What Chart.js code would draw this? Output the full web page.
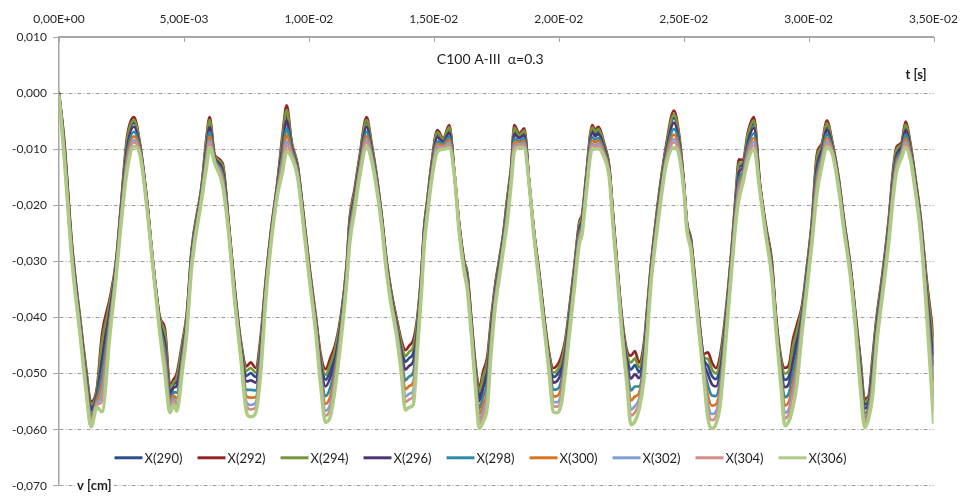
<!DOCTYPE html>
<html>
<head>
<meta charset="utf-8">
<script src="https://cdn.jsdelivr.net/npm/chart.js@4.4.1/dist/chart.umd.min.js"></script>
<style>
  html, body { margin: 0; padding: 0; background: #fff; }
</style>
</head>
<body>
<canvas id="myChart" width="961" height="499"></canvas>
<script>
// time axis [s]
var timeS = [
  0, 0.00020, 0.00052, 0.00084, 0.00108, 0.00128, 0.00152, 0.00172, 0.00204, 0.00228,
  0.00248, 0.00272, 0.00300, 0.00324, 0.00352, 0.00376, 0.00404, 0.00424, 0.00444, 0.00459,
  0.00471, 0.00495, 0.00511, 0.00531, 0.00571, 0.00591, 0.00603, 0.00623, 0.00655, 0.00679,
  0.00703, 0.00727, 0.00751, 0.00767, 0.00787, 0.00807, 0.00827, 0.00847, 0.00875, 0.00895,
  0.00911, 0.00931, 0.00955, 0.00979, 0.01003, 0.01027, 0.01047, 0.01067, 0.01087, 0.01107,
  0.01131, 0.01151, 0.01163, 0.01183, 0.01203, 0.01231, 0.01251, 0.01271, 0.01291, 0.01311,
  0.01330, 0.01350, 0.01370, 0.01386, 0.01402, 0.01418, 0.01434, 0.01450, 0.01462, 0.01474,
  0.01490, 0.01514, 0.01538, 0.01562, 0.01582, 0.01602, 0.01622, 0.01634, 0.01650, 0.01666,
  0.01682, 0.01698, 0.01714, 0.01730, 0.01746, 0.01762, 0.01778, 0.01794, 0.01810, 0.01822,
  0.01842, 0.01862, 0.01882, 0.01902, 0.01922, 0.01942, 0.01962, 0.01978, 0.01994, 0.02010,
  0.02026, 0.02038, 0.02062, 0.02082, 0.02094, 0.02110, 0.02134, 0.02146, 0.02158, 0.02182,
  0.02202, 0.02218, 0.02233, 0.02253, 0.02273, 0.02289, 0.02305, 0.02321, 0.02341, 0.02353,
  0.02369, 0.02389, 0.02409, 0.02429, 0.02461, 0.02481, 0.02501, 0.02513, 0.02529, 0.02541,
  0.02561, 0.02581, 0.02597, 0.02613, 0.02629, 0.02645, 0.02669, 0.02693, 0.02709, 0.02721,
  0.02737, 0.02757, 0.02781, 0.02805, 0.02829, 0.02853, 0.02869, 0.02889, 0.02905, 0.02921,
  0.02937, 0.02953, 0.02973, 0.02993, 0.03013, 0.03033, 0.03053, 0.03073, 0.03096, 0.03120,
  0.03140, 0.03168, 0.03188, 0.03208, 0.03224, 0.03240, 0.03256, 0.03272, 0.03296, 0.03320,
  0.03340, 0.03352, 0.03372, 0.03388, 0.03408, 0.03424, 0.03448, 0.03472, 0.03500
]

// displacement v [cm] at each node
var x290 = [
  -0.0001, -0.0086, -0.0276, -0.0406, -0.0498, -0.0559, -0.0532, -0.0458, -0.0378, -0.0306,
  -0.0207, -0.0092, -0.0053, -0.0094, -0.0193, -0.0302, -0.0406, -0.0436, -0.0530, -0.0519,
  -0.0513, -0.0450, -0.0402, -0.0284, -0.0169, -0.0087, -0.0054, -0.0113, -0.0133, -0.0234,
  -0.0351, -0.0446, -0.0504, -0.0499, -0.0506, -0.0448, -0.0342, -0.0255, -0.0160, -0.0086,
  -0.0038, -0.0093, -0.0132, -0.0222, -0.0317, -0.0401, -0.0476, -0.0511, -0.0492, -0.0461,
  -0.0396, -0.0313, -0.0233, -0.0179, -0.0120, -0.0053, -0.0096, -0.0151, -0.0220, -0.0302,
  -0.0359, -0.0405, -0.0452, -0.0479, -0.0472, -0.0463, -0.0412, -0.0328, -0.0242, -0.0196,
  -0.0135, -0.0074, -0.0084, -0.0065, -0.0141, -0.0237, -0.0304, -0.0326, -0.0406, -0.0488,
  -0.0540, -0.0513, -0.0488, -0.0412, -0.0348, -0.0303, -0.0256, -0.0196, -0.0135, -0.0067,
  -0.0077, -0.0070, -0.0161, -0.0252, -0.0324, -0.0404, -0.0472, -0.0506, -0.0502, -0.0487,
  -0.0452, -0.0410, -0.0318, -0.0238, -0.0222, -0.0153, -0.0066, -0.0073, -0.0068, -0.0095,
  -0.0134, -0.0224, -0.0304, -0.0406, -0.0471, -0.0493, -0.0485, -0.0497, -0.0459, -0.0398,
  -0.0313, -0.0232, -0.0161, -0.0102, -0.0044, -0.0080, -0.0163, -0.0233, -0.0263, -0.0316,
  -0.0405, -0.0474, -0.0486, -0.0504, -0.0510, -0.0488, -0.0398, -0.0279, -0.0188, -0.0132,
  -0.0128, -0.0080, -0.0054, -0.0163, -0.0240, -0.0306, -0.0400, -0.0480, -0.0511, -0.0505,
  -0.0464, -0.0434, -0.0390, -0.0318, -0.0236, -0.0124, -0.0098, -0.0059, -0.0094, -0.0154,
  -0.0224, -0.0314, -0.0400, -0.0488, -0.0555, -0.0548, -0.0484, -0.0410, -0.0328, -0.0236,
  -0.0139, -0.0105, -0.0093, -0.0060, -0.0097, -0.0145, -0.0226, -0.0342, -0.0465
]
var x292 = [
  0, -0.0080, -0.0270, -0.0400, -0.0490, -0.0550, -0.0525, -0.0430, -0.0365, -0.0300,
  -0.0200, -0.0080, -0.0043, -0.0090, -0.0190, -0.0300, -0.0400, -0.0420, -0.0520, -0.0510,
  -0.0500, -0.0440, -0.0395, -0.0278, -0.0164, -0.0076, -0.0043, -0.0110, -0.0125, -0.0230,
  -0.0346, -0.0440, -0.0487, -0.0480, -0.0490, -0.0435, -0.0335, -0.0250, -0.0155, -0.0072,
  -0.0022, -0.0087, -0.0128, -0.0218, -0.0312, -0.0395, -0.0465, -0.0492, -0.0471, -0.0446,
  -0.0388, -0.0306, -0.0224, -0.0171, -0.0113, -0.0043, -0.0090, -0.0146, -0.0216, -0.0298,
  -0.0354, -0.0399, -0.0440, -0.0458, -0.0450, -0.0440, -0.0400, -0.0320, -0.0235, -0.0190,
  -0.0129, -0.0066, -0.0080, -0.0057, -0.0140, -0.0234, -0.0300, -0.0320, -0.0400, -0.0480,
  -0.0525, -0.0495, -0.0470, -0.0400, -0.0340, -0.0296, -0.0250, -0.0187, -0.0129, -0.0057,
  -0.0072, -0.0063, -0.0160, -0.0250, -0.0320, -0.0400, -0.0465, -0.0490, -0.0485, -0.0470,
  -0.0440, -0.0400, -0.0310, -0.0230, -0.0215, -0.0146, -0.0057, -0.0066, -0.0060, -0.0090,
  -0.0130, -0.0220, -0.0300, -0.0400, -0.0459, -0.0468, -0.0460, -0.0480, -0.0446, -0.0388,
  -0.0306, -0.0225, -0.0154, -0.0095, -0.0031, -0.0072, -0.0160, -0.0230, -0.0259, -0.0311,
  -0.0400, -0.0465, -0.0462, -0.0480, -0.0490, -0.0470, -0.0388, -0.0271, -0.0177, -0.0118,
  -0.0120, -0.0070, -0.0043, -0.0160, -0.0236, -0.0300, -0.0395, -0.0470, -0.0490, -0.0485,
  -0.0440, -0.0413, -0.0380, -0.0310, -0.0228, -0.0110, -0.0090, -0.0049, -0.0090, -0.0150,
  -0.0220, -0.0310, -0.0395, -0.0477, -0.0545, -0.0540, -0.0470, -0.0400, -0.0320, -0.0228,
  -0.0129, -0.0096, -0.0088, -0.0051, -0.0091, -0.0140, -0.0220, -0.0330, -0.0434
]
var x294 = [
  0, -0.0083, -0.0273, -0.0403, -0.0494, -0.0555, -0.0529, -0.0444, -0.0372, -0.0303,
  -0.0204, -0.0086, -0.0048, -0.0092, -0.0192, -0.0301, -0.0403, -0.0428, -0.0525, -0.0515,
  -0.0507, -0.0445, -0.0399, -0.0281, -0.0167, -0.0081, -0.0048, -0.0112, -0.0129, -0.0232,
  -0.0348, -0.0443, -0.0495, -0.0490, -0.0498, -0.0442, -0.0339, -0.0253, -0.0158, -0.0079,
  -0.0030, -0.0090, -0.0130, -0.0220, -0.0314, -0.0398, -0.0471, -0.0502, -0.0481, -0.0453,
  -0.0392, -0.0309, -0.0229, -0.0175, -0.0117, -0.0048, -0.0093, -0.0148, -0.0218, -0.0300,
  -0.0357, -0.0402, -0.0446, -0.0469, -0.0461, -0.0452, -0.0406, -0.0324, -0.0239, -0.0193,
  -0.0132, -0.0070, -0.0082, -0.0061, -0.0141, -0.0236, -0.0302, -0.0323, -0.0403, -0.0484,
  -0.0532, -0.0504, -0.0479, -0.0406, -0.0344, -0.0299, -0.0253, -0.0191, -0.0132, -0.0062,
  -0.0075, -0.0067, -0.0161, -0.0251, -0.0322, -0.0402, -0.0469, -0.0498, -0.0494, -0.0479,
  -0.0446, -0.0405, -0.0314, -0.0234, -0.0219, -0.0149, -0.0061, -0.0069, -0.0064, -0.0093,
  -0.0132, -0.0222, -0.0302, -0.0403, -0.0465, -0.0480, -0.0473, -0.0489, -0.0452, -0.0393,
  -0.0309, -0.0229, -0.0158, -0.0099, -0.0038, -0.0076, -0.0162, -0.0232, -0.0261, -0.0313,
  -0.0403, -0.0470, -0.0474, -0.0492, -0.0500, -0.0479, -0.0393, -0.0275, -0.0182, -0.0125,
  -0.0124, -0.0075, -0.0049, -0.0162, -0.0238, -0.0303, -0.0398, -0.0475, -0.0500, -0.0495,
  -0.0452, -0.0424, -0.0385, -0.0314, -0.0232, -0.0117, -0.0094, -0.0054, -0.0092, -0.0152,
  -0.0222, -0.0312, -0.0398, -0.0482, -0.0550, -0.0544, -0.0477, -0.0405, -0.0324, -0.0232,
  -0.0134, -0.0100, -0.0091, -0.0056, -0.0094, -0.0143, -0.0223, -0.0336, -0.0449
]
var x296 = [
  -0.0002, -0.0090, -0.0280, -0.0410, -0.0503, -0.0565, -0.0537, -0.0476, -0.0386, -0.0310,
  -0.0212, -0.0100, -0.0060, -0.0097, -0.0195, -0.0303, -0.0410, -0.0446, -0.0537, -0.0525,
  -0.0522, -0.0457, -0.0407, -0.0289, -0.0173, -0.0094, -0.0061, -0.0115, -0.0138, -0.0237,
  -0.0354, -0.0450, -0.0514, -0.0512, -0.0516, -0.0456, -0.0347, -0.0258, -0.0163, -0.0094,
  -0.0049, -0.0096, -0.0135, -0.0225, -0.0320, -0.0405, -0.0483, -0.0523, -0.0505, -0.0470,
  -0.0402, -0.0317, -0.0239, -0.0184, -0.0125, -0.0060, -0.0100, -0.0154, -0.0222, -0.0305,
  -0.0363, -0.0409, -0.0460, -0.0493, -0.0486, -0.0478, -0.0420, -0.0333, -0.0247, -0.0200,
  -0.0139, -0.0079, -0.0087, -0.0071, -0.0142, -0.0239, -0.0307, -0.0330, -0.0410, -0.0493,
  -0.0549, -0.0525, -0.0500, -0.0420, -0.0353, -0.0307, -0.0260, -0.0201, -0.0139, -0.0073,
  -0.0080, -0.0075, -0.0162, -0.0253, -0.0327, -0.0407, -0.0477, -0.0516, -0.0513, -0.0498,
  -0.0460, -0.0417, -0.0323, -0.0243, -0.0227, -0.0157, -0.0071, -0.0077, -0.0073, -0.0098,
  -0.0137, -0.0227, -0.0307, -0.0410, -0.0479, -0.0509, -0.0501, -0.0508, -0.0467, -0.0405,
  -0.0317, -0.0237, -0.0166, -0.0107, -0.0053, -0.0085, -0.0165, -0.0235, -0.0266, -0.0319,
  -0.0408, -0.0480, -0.0501, -0.0519, -0.0523, -0.0500, -0.0405, -0.0284, -0.0194, -0.0142,
  -0.0133, -0.0087, -0.0062, -0.0165, -0.0242, -0.0310, -0.0403, -0.0487, -0.0524, -0.0518,
  -0.0480, -0.0448, -0.0397, -0.0323, -0.0242, -0.0133, -0.0103, -0.0065, -0.0097, -0.0157,
  -0.0227, -0.0317, -0.0403, -0.0494, -0.0562, -0.0553, -0.0493, -0.0417, -0.0333, -0.0242,
  -0.0146, -0.0111, -0.0097, -0.0066, -0.0101, -0.0148, -0.0230, -0.0350, -0.0484
]
var x298 = [
  -0.0003, -0.0095, -0.0285, -0.0415, -0.0510, -0.0573, -0.0543, -0.0499, -0.0398, -0.0315,
  -0.0218, -0.0110, -0.0069, -0.0100, -0.0198, -0.0305, -0.0415, -0.0460, -0.0545, -0.0533,
  -0.0534, -0.0465, -0.0413, -0.0294, -0.0177, -0.0103, -0.0070, -0.0118, -0.0145, -0.0240,
  -0.0358, -0.0455, -0.0529, -0.0529, -0.0530, -0.0468, -0.0353, -0.0263, -0.0168, -0.0106,
  -0.0063, -0.0101, -0.0139, -0.0229, -0.0324, -0.0410, -0.0493, -0.0540, -0.0523, -0.0483,
  -0.0409, -0.0323, -0.0247, -0.0191, -0.0132, -0.0069, -0.0105, -0.0158, -0.0226, -0.0309,
  -0.0367, -0.0415, -0.0470, -0.0512, -0.0505, -0.0498, -0.0430, -0.0340, -0.0253, -0.0205,
  -0.0145, -0.0086, -0.0090, -0.0078, -0.0143, -0.0242, -0.0310, -0.0335, -0.0415, -0.0500,
  -0.0562, -0.0540, -0.0515, -0.0430, -0.0360, -0.0313, -0.0265, -0.0209, -0.0145, -0.0081,
  -0.0085, -0.0081, -0.0163, -0.0255, -0.0330, -0.0410, -0.0483, -0.0529, -0.0528, -0.0513,
  -0.0470, -0.0425, -0.0330, -0.0250, -0.0233, -0.0163, -0.0079, -0.0083, -0.0080, -0.0103,
  -0.0140, -0.0230, -0.0310, -0.0415, -0.0490, -0.0530, -0.0523, -0.0523, -0.0478, -0.0414,
  -0.0323, -0.0243, -0.0172, -0.0113, -0.0064, -0.0091, -0.0168, -0.0238, -0.0270, -0.0323,
  -0.0413, -0.0488, -0.0521, -0.0539, -0.0540, -0.0515, -0.0414, -0.0291, -0.0204, -0.0154,
  -0.0140, -0.0095, -0.0072, -0.0168, -0.0246, -0.0315, -0.0408, -0.0495, -0.0542, -0.0535,
  -0.0500, -0.0467, -0.0405, -0.0330, -0.0249, -0.0145, -0.0110, -0.0073, -0.0100, -0.0160,
  -0.0230, -0.0320, -0.0408, -0.0504, -0.0571, -0.0560, -0.0505, -0.0425, -0.0340, -0.0249,
  -0.0155, -0.0118, -0.0102, -0.0074, -0.0106, -0.0153, -0.0235, -0.0360, -0.0511
]
var x300 = [
  -0.0003, -0.0100, -0.0290, -0.0420, -0.0516, -0.0579, -0.0548, -0.0520, -0.0407, -0.0320,
  -0.0223, -0.0119, -0.0077, -0.0103, -0.0200, -0.0307, -0.0420, -0.0472, -0.0553, -0.0539,
  -0.0544, -0.0473, -0.0418, -0.0299, -0.0181, -0.0111, -0.0078, -0.0120, -0.0151, -0.0243,
  -0.0362, -0.0460, -0.0541, -0.0543, -0.0542, -0.0477, -0.0358, -0.0266, -0.0171, -0.0116,
  -0.0075, -0.0105, -0.0142, -0.0232, -0.0327, -0.0415, -0.0501, -0.0554, -0.0539, -0.0494,
  -0.0415, -0.0328, -0.0254, -0.0196, -0.0137, -0.0077, -0.0110, -0.0162, -0.0228, -0.0312,
  -0.0371, -0.0419, -0.0479, -0.0528, -0.0522, -0.0515, -0.0439, -0.0346, -0.0258, -0.0210,
  -0.0149, -0.0091, -0.0093, -0.0084, -0.0143, -0.0244, -0.0313, -0.0340, -0.0420, -0.0506,
  -0.0572, -0.0554, -0.0529, -0.0439, -0.0366, -0.0318, -0.0270, -0.0215, -0.0149, -0.0088,
  -0.0088, -0.0086, -0.0163, -0.0257, -0.0333, -0.0413, -0.0488, -0.0541, -0.0540, -0.0525,
  -0.0479, -0.0433, -0.0336, -0.0256, -0.0238, -0.0168, -0.0085, -0.0088, -0.0085, -0.0106,
  -0.0143, -0.0233, -0.0313, -0.0420, -0.0499, -0.0548, -0.0541, -0.0535, -0.0488, -0.0422,
  -0.0328, -0.0248, -0.0177, -0.0118, -0.0074, -0.0097, -0.0170, -0.0240, -0.0273, -0.0327,
  -0.0416, -0.0494, -0.0539, -0.0557, -0.0555, -0.0529, -0.0422, -0.0296, -0.0211, -0.0165,
  -0.0146, -0.0103, -0.0080, -0.0170, -0.0248, -0.0320, -0.0411, -0.0503, -0.0557, -0.0550,
  -0.0518, -0.0483, -0.0413, -0.0336, -0.0255, -0.0156, -0.0116, -0.0080, -0.0103, -0.0163,
  -0.0233, -0.0323, -0.0411, -0.0511, -0.0578, -0.0566, -0.0516, -0.0433, -0.0346, -0.0255,
  -0.0162, -0.0125, -0.0106, -0.0081, -0.0110, -0.0156, -0.0240, -0.0369, -0.0533
]
var x302 = [
  -0.0004, -0.0103, -0.0293, -0.0423, -0.0521, -0.0585, -0.0552, -0.0538, -0.0416, -0.0323,
  -0.0227, -0.0127, -0.0084, -0.0106, -0.0202, -0.0308, -0.0423, -0.0482, -0.0559, -0.0545,
  -0.0552, -0.0479, -0.0422, -0.0303, -0.0184, -0.0118, -0.0085, -0.0122, -0.0156, -0.0246,
  -0.0365, -0.0463, -0.0552, -0.0556, -0.0552, -0.0486, -0.0362, -0.0270, -0.0175, -0.0125,
  -0.0086, -0.0109, -0.0145, -0.0235, -0.0330, -0.0418, -0.0508, -0.0566, -0.0552, -0.0504,
  -0.0421, -0.0333, -0.0260, -0.0201, -0.0142, -0.0084, -0.0113, -0.0165, -0.0231, -0.0315,
  -0.0374, -0.0423, -0.0487, -0.0541, -0.0536, -0.0530, -0.0447, -0.0351, -0.0262, -0.0213,
  -0.0153, -0.0096, -0.0096, -0.0089, -0.0144, -0.0246, -0.0316, -0.0343, -0.0423, -0.0511,
  -0.0582, -0.0565, -0.0540, -0.0447, -0.0371, -0.0323, -0.0273, -0.0221, -0.0153, -0.0094,
  -0.0092, -0.0090, -0.0164, -0.0258, -0.0336, -0.0416, -0.0492, -0.0551, -0.0551, -0.0536,
  -0.0487, -0.0439, -0.0341, -0.0261, -0.0242, -0.0173, -0.0091, -0.0093, -0.0090, -0.0110,
  -0.0146, -0.0236, -0.0316, -0.0423, -0.0507, -0.0564, -0.0558, -0.0546, -0.0496, -0.0429,
  -0.0333, -0.0252, -0.0182, -0.0122, -0.0082, -0.0102, -0.0172, -0.0242, -0.0275, -0.0330,
  -0.0420, -0.0500, -0.0554, -0.0572, -0.0568, -0.0540, -0.0429, -0.0301, -0.0218, -0.0174,
  -0.0151, -0.0109, -0.0087, -0.0172, -0.0251, -0.0323, -0.0415, -0.0509, -0.0570, -0.0563,
  -0.0534, -0.0496, -0.0419, -0.0341, -0.0261, -0.0165, -0.0121, -0.0086, -0.0106, -0.0166,
  -0.0236, -0.0326, -0.0415, -0.0518, -0.0585, -0.0571, -0.0525, -0.0439, -0.0351, -0.0261,
  -0.0169, -0.0130, -0.0109, -0.0087, -0.0114, -0.0160, -0.0243, -0.0377, -0.0553
]
var x304 = [
  -0.0004, -0.0106, -0.0296, -0.0426, -0.0525, -0.0589, -0.0555, -0.0550, -0.0422, -0.0326,
  -0.0230, -0.0132, -0.0088, -0.0107, -0.0203, -0.0309, -0.0426, -0.0490, -0.0564, -0.0549,
  -0.0558, -0.0484, -0.0425, -0.0306, -0.0187, -0.0123, -0.0090, -0.0123, -0.0160, -0.0247,
  -0.0367, -0.0466, -0.0559, -0.0564, -0.0560, -0.0492, -0.0365, -0.0272, -0.0177, -0.0131,
  -0.0093, -0.0111, -0.0147, -0.0237, -0.0332, -0.0421, -0.0513, -0.0575, -0.0561, -0.0510,
  -0.0425, -0.0336, -0.0264, -0.0205, -0.0145, -0.0088, -0.0116, -0.0167, -0.0233, -0.0317,
  -0.0377, -0.0426, -0.0492, -0.0551, -0.0546, -0.0540, -0.0452, -0.0355, -0.0265, -0.0216,
  -0.0156, -0.0100, -0.0097, -0.0093, -0.0144, -0.0248, -0.0317, -0.0346, -0.0426, -0.0515,
  -0.0589, -0.0573, -0.0548, -0.0452, -0.0375, -0.0326, -0.0276, -0.0224, -0.0156, -0.0099,
  -0.0094, -0.0093, -0.0164, -0.0259, -0.0337, -0.0417, -0.0495, -0.0558, -0.0559, -0.0544,
  -0.0492, -0.0444, -0.0345, -0.0265, -0.0245, -0.0176, -0.0094, -0.0096, -0.0094, -0.0112,
  -0.0147, -0.0237, -0.0317, -0.0426, -0.0512, -0.0575, -0.0569, -0.0554, -0.0502, -0.0433,
  -0.0336, -0.0255, -0.0185, -0.0125, -0.0088, -0.0105, -0.0173, -0.0243, -0.0277, -0.0332,
  -0.0422, -0.0504, -0.0565, -0.0583, -0.0577, -0.0548, -0.0433, -0.0305, -0.0223, -0.0181,
  -0.0155, -0.0114, -0.0093, -0.0173, -0.0253, -0.0326, -0.0417, -0.0514, -0.0580, -0.0572,
  -0.0544, -0.0506, -0.0424, -0.0345, -0.0265, -0.0171, -0.0125, -0.0091, -0.0107, -0.0167,
  -0.0237, -0.0327, -0.0417, -0.0523, -0.0589, -0.0575, -0.0531, -0.0444, -0.0355, -0.0265,
  -0.0173, -0.0134, -0.0111, -0.0091, -0.0116, -0.0162, -0.0246, -0.0382, -0.0567
]
var x306 = [
  -0.0005, -0.0110, -0.0300, -0.0430, -0.0530, -0.0595, -0.0560, -0.0568, -0.0430, -0.0330,
  -0.0235, -0.0140, -0.0095, -0.0110, -0.0205, -0.0310, -0.0430, -0.0500, -0.0570, -0.0555,
  -0.0567, -0.0490, -0.0430, -0.0310, -0.0190, -0.0130, -0.0097, -0.0125, -0.0165, -0.0250,
  -0.0370, -0.0470, -0.0570, -0.0577, -0.0570, -0.0500, -0.0370, -0.0275, -0.0180, -0.0140,
  -0.0104, -0.0115, -0.0150, -0.0240, -0.0335, -0.0425, -0.0520, -0.0587, -0.0575, -0.0520,
  -0.0430, -0.0340, -0.0270, -0.0210, -0.0150, -0.0095, -0.0120, -0.0170, -0.0235, -0.0320,
  -0.0380, -0.0430, -0.0500, -0.0565, -0.0560, -0.0555, -0.0460, -0.0360, -0.0270, -0.0220,
  -0.0160, -0.0105, -0.0100, -0.0098, -0.0145, -0.0250, -0.0320, -0.0350, -0.0430, -0.0520,
  -0.0598, -0.0585, -0.0560, -0.0460, -0.0380, -0.0330, -0.0280, -0.0230, -0.0160, -0.0105,
  -0.0097, -0.0098, -0.0165, -0.0260, -0.0340, -0.0420, -0.0500, -0.0568, -0.0570, -0.0555,
  -0.0500, -0.0450, -0.0350, -0.0270, -0.0250, -0.0180, -0.0100, -0.0100, -0.0099, -0.0115,
  -0.0150, -0.0240, -0.0320, -0.0430, -0.0520, -0.0591, -0.0585, -0.0565, -0.0510, -0.0440,
  -0.0340, -0.0260, -0.0190, -0.0130, -0.0097, -0.0110, -0.0175, -0.0245, -0.0280, -0.0335,
  -0.0425, -0.0510, -0.0580, -0.0598, -0.0590, -0.0560, -0.0440, -0.0310, -0.0230, -0.0190,
  -0.0160, -0.0120, -0.0100, -0.0175, -0.0255, -0.0330, -0.0420, -0.0520, -0.0593, -0.0585,
  -0.0560, -0.0520, -0.0430, -0.0350, -0.0270, -0.0180, -0.0130, -0.0097, -0.0110, -0.0170,
  -0.0240, -0.0330, -0.0420, -0.0530, -0.0596, -0.0580, -0.0540, -0.0450, -0.0360, -0.0270,
  -0.0180, -0.0140, -0.0115, -0.0097, -0.0120, -0.0165, -0.0250, -0.0390, -0.0587
]

var seriesNames = ['X(290)', 'X(292)', 'X(294)', 'X(296)', 'X(298)', 'X(300)', 'X(302)', 'X(304)', 'X(306)']
var seriesValues = [x290, x292, x294, x296, x298, x300, x302, x304, x306]
var seriesColors = ['#27508c', '#952326', '#78953a', '#503478', '#2c8aa5', '#db7420', '#819fd3', '#d48b8a', '#aecb86']

var xTickLabels = ['0,00E+00', '5,00E-03', '1,00E-02', '1,50E-02', '2,00E-02', '2,50E-02', '3,00E-02', '3,50E-02']
var yTickLabels = ['-0,070', '-0,060', '-0,050', '-0,040', '-0,030', '-0,020', '-0,010', '0,000', '0,010']

var chartTitle = 'C100 A-III  \u03b1=0.3'
var xAxisName = 't [s]'
var yAxisName = 'v [cm]'

var FONT = 'Lato, "Open Sans", sans-serif'

// title, axis names, inner ticks on the time axis and the legend strip
var decorations = {
    id: 'decorations',
    afterDraw: function(chart) {
        var ctx = chart.ctx
        var area = chart.chartArea
        var xs = chart.scales.x

        ctx.save()
        ctx.strokeStyle = '#a6a6a6'
        ctx.lineWidth = 1
        xs.ticks.forEach(function(t) {
            var px = Math.round(xs.getPixelForValue(t.value)) + 0.5
            ctx.beginPath()
            ctx.moveTo(px, area.top)
            ctx.lineTo(px, area.top + 5)
            ctx.stroke()
        })

        ctx.fillStyle = '#1e1e1e'
        ctx.textBaseline = 'middle'
        ctx.font = '14px ' + FONT
        ctx.textAlign = 'center'
        ctx.fillText(chartTitle, (area.left + area.right) / 2 - 6, area.top + 22)

        ctx.font = 'bold 13px ' + FONT
        ctx.textAlign = 'right'
        ctx.fillText(xAxisName, area.right - 7, area.top + 38)

        ctx.textAlign = 'left'
        var w = ctx.measureText(yAxisName).width
        ctx.fillStyle = '#fff'
        ctx.fillRect(area.left + 16, area.bottom - 8, w + 4, 14)
        ctx.fillStyle = '#1e1e1e'
        ctx.fillText(yAxisName, area.left + 18, area.bottom)

        // legend
        ctx.font = '13px ' + FONT
        var lineLen = 28, textGap = 2, itemGap = 15
        var widths = seriesNames.map(function(n) { return lineLen + textGap + ctx.measureText(n).width })
        var total = widths.reduce(function(a, b) { return a + b }, 0) + itemGap * (widths.length - 1)
        var x = chart.width / 2 - total / 2
        var y = area.bottom - 28
        chart.data.datasets.forEach(function(ds, i) {
            ctx.strokeStyle = ds.borderColor
            ctx.lineWidth = 3
            ctx.beginPath()
            ctx.moveTo(x, y)
            ctx.lineTo(x + lineLen, y)
            ctx.stroke()
            ctx.fillStyle = '#1e1e1e'
            ctx.textAlign = 'left'
            ctx.fillText(seriesNames[i], x + lineLen + textGap, y + 1)
            x += widths[i] + itemGap
        })
        ctx.restore()
    }
}

var datasets = seriesNames.map(function(name, i) {
    return {
        label: name,
        data: timeS.map(function(t, k) { return { x: t, y: seriesValues[i][k] } }),
        borderColor: seriesColors[i],
        backgroundColor: seriesColors[i],
        borderWidth: i === seriesNames.length - 1 ? 3.5 : 2.7,
        order: seriesNames.length - i,
        fill: false
    }
})

var ctx = document.getElementById('myChart').getContext('2d')
var myChart = new Chart(ctx, {
    type: 'line',
    data: { datasets: datasets },
    options: {
        responsive: false,
        animation: false,
        layout: { padding: { left: 0, right: 26, top: 0, bottom: 6 } },
        elements: {
            point: { radius: 0 },
            line: { cubicInterpolationMode: 'monotone', borderJoinStyle: 'round', borderCapStyle: 'round' }
        },
        plugins: {
            legend: { display: false },
            title: { display: false },
            tooltip: { enabled: false }
        },
        scales: {
            x: {
                type: 'linear',
                position: 'top',
                min: 0,
                max: 0.035,
                grid: { display: false },
                border: { display: true, color: '#a6a6a6', width: 2 },
                ticks: {
                    stepSize: 0.005,
                    autoSkip: false,
                    maxRotation: 0,
                    padding: 3,
                    color: '#262626',
                    font: { family: FONT, size: 12 },
                    callback: function(v, i) { return xTickLabels[i] }
                },
                afterFit: function(scale) { scale.height = 37 }
            },
            y: {
                min: -0.07,
                max: 0.01,
                grid: {
                    color: function(c) { return c.tick && c.tick.value > 0.005 ? 'rgba(0,0,0,0)' : '#9c9c9c' },
                    lineWidth: 1,
                    tickLength: 6,
                    tickColor: '#a6a6a6',
                    tickBorderDash: []
                },
                border: { display: true, color: '#a6a6a6', width: 1.5, dash: [4, 2, 1, 2] },
                ticks: {
                    stepSize: 0.01,
                    padding: 6,
                    color: '#262626',
                    font: { family: FONT, size: 12 },
                    callback: function(v, i) { return yTickLabels[i] }
                },
                afterFit: function(scale) { scale.width = 59 }
            }
        }
    },
    plugins: [decorations]
})
</script>
</body>
</html>
